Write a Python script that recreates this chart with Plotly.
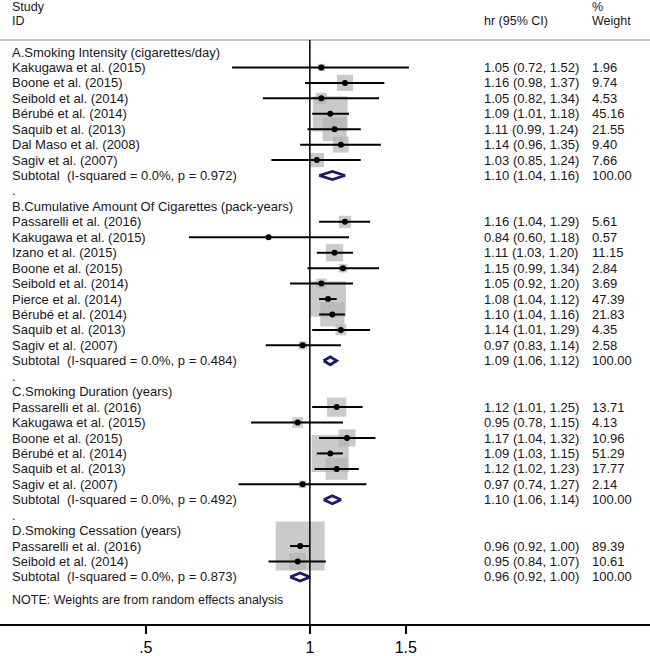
import math
import plotly.graph_objects as go

# group headers
GROUPS = [
    "A.Smoking Intensity (cigarettes/day)",
    "B.Cumulative Amount Of Cigarettes (pack-years)",
    "C.Smoking Duration (years)",
    "D.Smoking Cessation (years)",
]

A_STUDY = ["Kakugawa et al. (2015)", "Boone et al. (2015)", "Seibold et al. (2014)",
           "Bérubé et al. (2014)", "Saquib et al. (2013)", "Dal Maso et al. (2008)",
           "Sagiv et al. (2007)"]
A_HR = [1.05, 1.16, 1.05, 1.09, 1.11, 1.14, 1.03]
A_LO = [0.72, 0.98, 0.82, 1.01, 0.99, 0.96, 0.85]
A_HI = [1.52, 1.37, 1.34, 1.18, 1.24, 1.35, 1.24]
A_WT = [1.96, 9.74, 4.53, 45.16, 21.55, 9.40, 7.66]

B_STUDY = ["Passarelli et al. (2016)", "Kakugawa et al. (2015)", "Izano et al. (2015)",
           "Boone et al. (2015)", "Seibold et al. (2014)", "Pierce et al. (2014)",
           "Bérubé et al. (2014)", "Saquib et al. (2013)", "Sagiv et al. (2007)"]
B_HR = [1.16, 0.84, 1.11, 1.15, 1.05, 1.08, 1.10, 1.14, 0.97]
B_LO = [1.04, 0.60, 1.03, 0.99, 0.92, 1.04, 1.04, 1.01, 0.83]
B_HI = [1.29, 1.18, 1.20, 1.34, 1.20, 1.12, 1.16, 1.29, 1.14]
B_WT = [5.61, 0.57, 11.15, 2.84, 3.69, 47.39, 21.83, 4.35, 2.58]

C_STUDY = ["Passarelli et al. (2016)", "Kakugawa et al. (2015)", "Boone et al. (2015)",
           "Bérubé et al. (2014)", "Saquib et al. (2013)", "Sagiv et al. (2007)"]
C_HR = [1.12, 0.95, 1.17, 1.09, 1.12, 0.97]
C_LO = [1.01, 0.78, 1.04, 1.03, 1.02, 0.74]
C_HI = [1.25, 1.15, 1.32, 1.15, 1.23, 1.27]
C_WT = [13.71, 4.13, 10.96, 51.29, 17.77, 2.14]

D_STUDY = ["Passarelli et al. (2016)", "Seibold et al. (2014)"]
D_HR = [0.96, 0.95]
D_LO = [0.92, 0.84]
D_HI = [1.00, 1.07]
D_WT = [89.39, 10.61]

SUB_HR = [1.10, 1.09, 1.10, 0.96]
SUB_LO = [1.04, 1.06, 1.06, 0.92]
SUB_HI = [1.16, 1.12, 1.14, 1.00]
SUB_TXT = ["(I-squared = 0.0%, p = 0.972)", "(I-squared = 0.0%, p = 0.484)",
           "(I-squared = 0.0%, p = 0.492)", "(I-squared = 0.0%, p = 0.873)"]

TICKS = [0.5, 1, 1.5]
TICK_TEXT = [".5", "1", "1.5"]

DATA = [
    (A_STUDY, A_HR, A_LO, A_HI, A_WT),
    (B_STUDY, B_HR, B_LO, B_HI, B_WT),
    (C_STUDY, C_HR, C_LO, C_HI, C_WT),
    (D_STUDY, D_HR, D_LO, D_HI, D_WT),
]

W, H = 650, 656
PLOT_H = 624
ROW0_PX, ROW_PX = 52, 15.44
R_TOP = -ROW0_PX / ROW_PX
R_BOT = R_TOP + PLOT_H / ROW_PX


def px_to_row(p):
    return R_TOP + p / ROW_PX


FONT = "Liberation Sans, Arial, sans-serif"
TXT = "#1a1620"
BOX = "#b4b4b4"
NAVY = "#1a1a6e"

fig = go.Figure()
annots = []


def label(x_px, r, text, color=TXT, size=13):
    annots.append(dict(x=x_px / W, xref="paper", y=r, yref="y", text=text,
                       showarrow=False, xanchor="left", yanchor="middle",
                       font=dict(family=FONT, size=size, color=color)))


box_x, box_y, box_s = [], [], []
ci_x, ci_y = [], []
pt_x, pt_y = [], []
dia_x, dia_y = [], []

r = 0
for g, (study, hr, lo, hi, wt) in enumerate(DATA):
    label(10, r, GROUPS[g])
    r += 1
    for s, h, l, u, w in zip(study, hr, lo, hi, wt):
        label(10, r, s)
        label(482, r, f"{h:.2f} ({l:.2f}, {u:.2f})")
        label(590, r, f"{w:.2f}")
        box_x.append(h); box_y.append(r); box_s.append(5.18 * math.sqrt(w))
        ci_x += [l, u, None]; ci_y += [r, r, None]
        pt_x.append(h); pt_y.append(r)
        r += 1
    label(10, r, "Subtotal\u00a0 " + SUB_TXT[g])
    label(482, r, f"{SUB_HR[g]:.2f} ({SUB_LO[g]:.2f}, {SUB_HI[g]:.2f})")
    label(590, r, "100.00")
    dh = 4 / ROW_PX
    dia_x += [SUB_LO[g], SUB_HR[g], SUB_HI[g], SUB_HR[g], SUB_LO[g], None]
    dia_y += [r, r - dh, r, r + dh, r, None]
    r += 1
    if g < len(DATA) - 1:
        label(10, r, ".")
        r += 1

label(10, r + 0.5, "NOTE: Weights are from random effects analysis", size=12.5)

# header
label(10, px_to_row(7), "Study", size=12.5)
label(10, px_to_row(20.5), "ID", size=12.5)
label(482, px_to_row(20.5), "hr (95% CI)", size=12.5)
label(590, px_to_row(7), "%", size=12.5)
label(590, px_to_row(20.5), "Weight", size=12.5)

fig.add_trace(go.Scatter(x=box_x, y=box_y, mode="markers", hoverinfo="skip",
                         marker=dict(symbol="square", size=box_s, color=BOX,
                                     line=dict(width=0))))
fig.add_trace(go.Scatter(x=ci_x, y=ci_y, mode="lines", hoverinfo="skip",
                         line=dict(color="black", width=2)))
fig.add_trace(go.Scatter(x=pt_x, y=pt_y, mode="markers",
                         marker=dict(symbol="circle", size=6, color="black"),
                         hovertemplate="hr %{x:.2f}<extra></extra>"))
fig.add_trace(go.Scatter(x=dia_x, y=dia_y, mode="lines", hoverinfo="skip",
                         line=dict(color=NAVY, width=2.8)))

hdr_r = px_to_row(40)
shapes = [
    dict(type="line", xref="paper", x0=0, x1=1, yref="y", y0=hdr_r, y1=hdr_r,
         line=dict(color="#b0b0b0", width=1.5)),
    dict(type="line", xref="x", x0=1, x1=1, yref="y", y0=hdr_r, y1=R_BOT,
         line=dict(color="black", width=1.5)),
]

fig.update_layout(
    width=W, height=H,
    margin=dict(l=0, r=0, t=0, b=H - PLOT_H),
    plot_bgcolor="white", paper_bgcolor="white",
    showlegend=False,
    annotations=annots,
    shapes=shapes,
    xaxis=dict(type="log", range=[math.log10(0.270), math.log10(4.21)],
               tickvals=TICKS, ticktext=TICK_TEXT, ticks="outside", ticklen=8,
               tickcolor="black", tickwidth=1.5,
               showline=True, linecolor="black", linewidth=1.5,
               showgrid=False, zeroline=False,
               tickfont=dict(family=FONT, size=16, color="black")),
    yaxis=dict(range=[R_BOT, R_TOP], visible=False, showgrid=False, zeroline=False),
)

# drop the default page margin so the figure sits at the window's top-left
fig.write_html("out.html", config={"displayModeBar": False},
               post_script="document.body.style.margin='0';")
